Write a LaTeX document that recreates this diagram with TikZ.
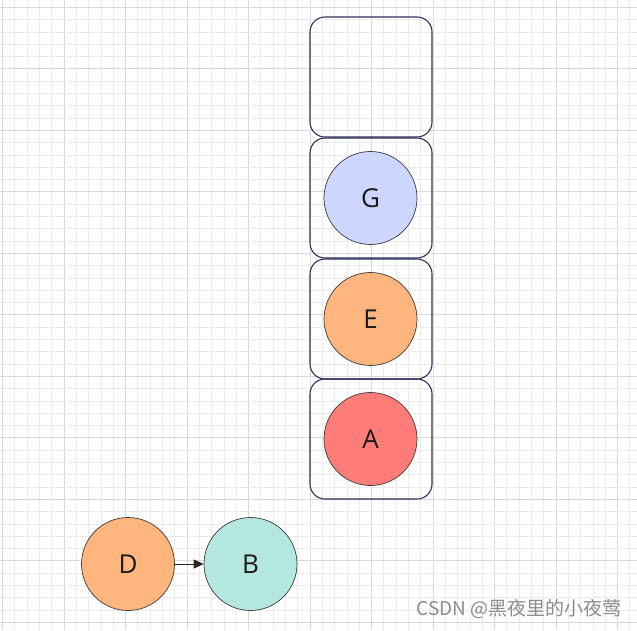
\documentclass[tikz,border=0pt]{standalone}
\usepackage{fontspec}
\setmainfont{Open Sans}
\newfontfamily\cjkfont{Noto Sans CJK SC}
\usetikzlibrary{arrows.meta}
\definecolor{gridminor}{HTML}{EBEBEB}
\definecolor{gridmajor}{HTML}{D8D8D8}
\definecolor{boxline}{HTML}{2E3259}
\definecolor{fillG}{HTML}{CCD6FF}
\definecolor{fillE}{HTML}{FFB57E}
\definecolor{fillA}{HTML}{FF7C78}
\definecolor{fillB}{HTML}{B3E7DF}
\definecolor{circline}{HTML}{3A3A3A}
\tikzset{
  slot/.style={draw=boxline, line width=1.1pt, rounded corners=15pt, minimum width=122pt, minimum height=120pt, inner sep=0pt},
  ball/.style={circle, draw=circline, line width=0.7pt, minimum size=93pt, inner sep=0pt, font=\fontsize{26}{30}\selectfont, text=black!90},
  link/.style={-{Triangle[length=10pt,width=9pt]}, line width=1pt, black!85},
}
\begin{document}
\begin{tikzpicture}[x=1pt,y=-1pt]
\useasboundingbox (0,0) rectangle (637,630);
\fill[white] (0,0) rectangle (637,630);
% grid
\foreach \i in {0,...,52}{
  \pgfmathsetmacro{\xx}{2.5+12.3*\i}
  \pgfmathtruncatemacro{\m}{mod(\i,5)}
  \ifnum\m=0
    \draw[gridmajor, line width=0.9pt] (\xx,0) -- (\xx,630);
  \else
    \draw[gridminor, line width=0.8pt] (\xx,0) -- (\xx,630);
  \fi
}
\foreach \i in {-1,...,51}{
  \pgfmathsetmacro{\yy}{7.3+12.3*\i}
  \pgfmathtruncatemacro{\m}{mod(\i+5,5)}
  \ifnum\m=0
    \draw[gridmajor, line width=0.9pt] (0,\yy) -- (637,\yy);
  \else
    \draw[gridminor, line width=0.8pt] (0,\yy) -- (637,\yy);
  \fi
}
% stack slots
\node[slot] (s1) at (371,77) {};
\node[slot] (s2) at (371,198) {};
\node[slot] (s3) at (371,319) {};
\node[slot] (s4) at (371,439) {};
% balls
\node[ball, fill=fillG] (g) at (370.5,198) {G};
\node[ball, fill=fillE] (e) at (370.5,319) {E};
\node[ball, fill=fillA] (a) at (370.5,439) {A};
\node[ball, fill=fillE] (d) at (128,564) {D};
\node[ball, fill=fillB] (b) at (250.5,564) {B};
\draw[link] (d) -- (b);
% watermark
\node[anchor=east, text=black!45, font=\cjkfont\fontsize{19}{22}\selectfont, inner sep=0pt] (wm) at (622,609) {CSDN @黑夜里的小夜莺};
\end{tikzpicture}
\end{document}
